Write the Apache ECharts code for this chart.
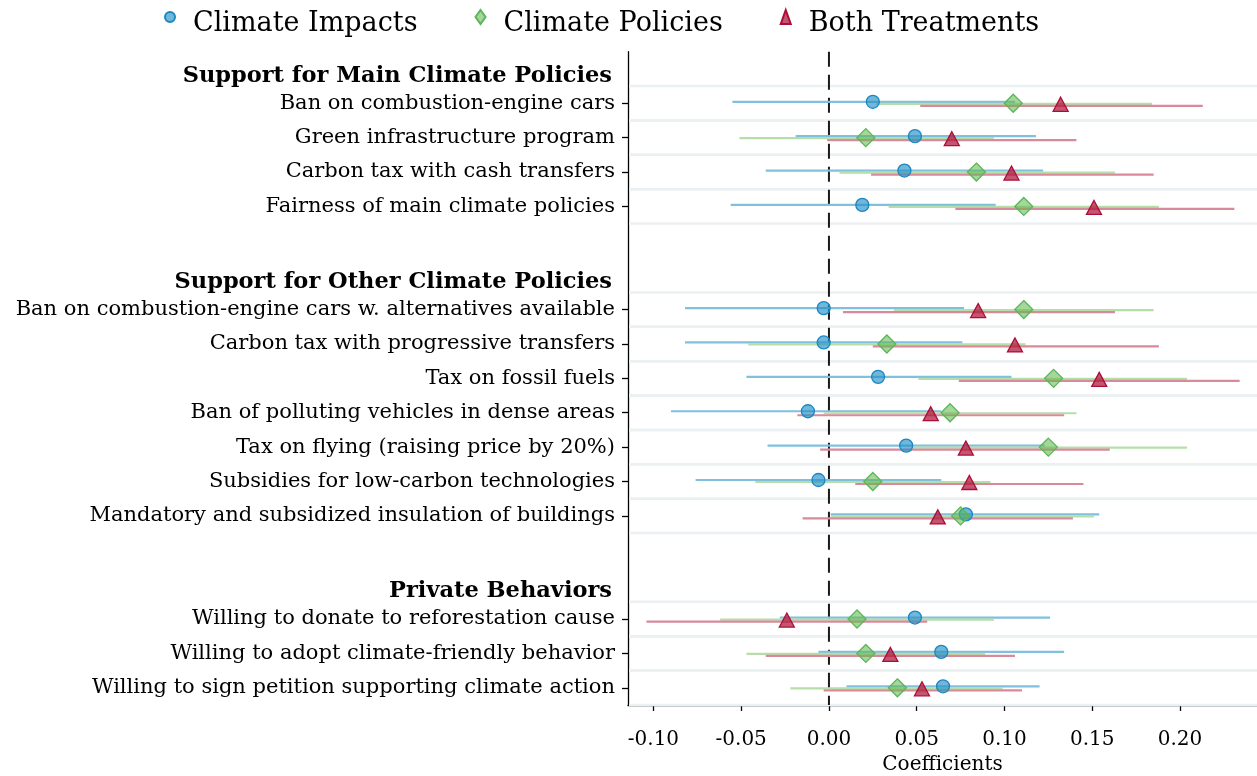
<!DOCTYPE html>
<html>
<head>
<meta charset="utf-8">
<script src="https://cdn.jsdelivr.net/npm/echarts@6/dist/echarts.min.js"></script>
<style>
html,body{margin:0;padding:0;background:#fff;}
#chart{width:1257px;height:776px;}
</style>
</head>
<body>
<div id="chart"></div>
<script>
// ---------- DATA ----------
const headerMain = 'Support for Main Climate Policies';
const headerOther = 'Support for Other Climate Policies';
const headerPrivate = 'Private Behaviors';

const itemsMain = [
  'Ban on combustion-engine cars',
  'Green infrastructure program',
  'Carbon tax with cash transfers',
  'Fairness of main climate policies'
];
const itemsOther = [
  'Ban on combustion-engine cars w. alternatives available',
  'Carbon tax with progressive transfers',
  'Tax on fossil fuels',
  'Ban of polluting vehicles in dense areas',
  'Tax on flying (raising price by 20%)',
  'Subsidies for low-carbon technologies',
  'Mandatory and subsidized insulation of buildings'
];
const itemsPrivate = [
  'Willing to donate to reforestation cause',
  'Willing to adopt climate-friendly behavior',
  'Willing to sign petition supporting climate action'
];

// estimates, lower CI, upper CI (order: main, other, private)
const impactsEst = [0.025, 0.049, 0.043, 0.019, -0.003, -0.003, 0.028, -0.012, 0.044, -0.006, 0.078, 0.049, 0.064, 0.065];
const impactsLo  = [-0.055, -0.019, -0.036, -0.056, -0.082, -0.082, -0.047, -0.090, -0.035, -0.076, 0.001, -0.028, -0.006, 0.010];
const impactsHi  = [0.106, 0.118, 0.122, 0.095, 0.077, 0.076, 0.104, 0.064, 0.123, 0.064, 0.154, 0.126, 0.134, 0.120];

const policiesEst = [0.105, 0.021, 0.084, 0.111, 0.111, 0.033, 0.128, 0.069, 0.125, 0.025, 0.075, 0.016, 0.021, 0.039];
const policiesLo  = [0.027, -0.051, 0.006, 0.034, 0.037, -0.046, 0.051, -0.003, 0.047, -0.042, 0.001, -0.062, -0.047, -0.022];
const policiesHi  = [0.184, 0.094, 0.163, 0.188, 0.185, 0.112, 0.204, 0.141, 0.204, 0.092, 0.151, 0.094, 0.089, 0.099];

const bothEst = [0.132, 0.070, 0.104, 0.151, 0.085, 0.106, 0.154, 0.058, 0.078, 0.080, 0.062, -0.024, 0.035, 0.053];
const bothLo  = [0.052, -0.001, 0.024, 0.072, 0.008, 0.025, 0.074, -0.018, -0.005, 0.015, -0.015, -0.104, -0.036, -0.003];
const bothHi  = [0.213, 0.141, 0.185, 0.231, 0.163, 0.188, 0.234, 0.134, 0.160, 0.145, 0.139, 0.056, 0.106, 0.110];

const tickValues = [-0.10, -0.05, 0.00, 0.05, 0.10, 0.15, 0.20];
const seriesNames = ['Climate Impacts', 'Climate Policies', 'Both Treatments'];

// ---------- BUILD ROWS ----------
const headers = [headerMain, headerOther, headerPrivate];
const rows = [];          // category names
const dataRowIdx = [];    // category indices of data rows
[[headerMain, itemsMain], [headerOther, itemsOther], [headerPrivate, itemsPrivate]].forEach(function (g, gi) {
  if (gi > 0) rows.push(' '.repeat(gi));
  rows.push(g[0]);
  g[1].forEach(function (it) { dataRowIdx.push(rows.length); rows.push(it); });
});
const isData = {}; dataRowIdx.forEach(function (i) { isData[i] = true; });

const FONT = 'DejaVu Serif';
const lineColors = ['#7fc0df', '#b6dea8', '#d88a9b'];
const lineDy = [-1.5, 0.5, 2.5];
const markerDy = [-1.5, 0, 1];
const fills = ['rgba(31,142,199,0.64)', 'rgba(95,183,77,0.56)', 'rgba(174,18,55,0.72)'];
const borders = ['#1a88c0', '#5cb55a', '#ad0d3a'];
const symbols = ['circle', 'diamond', 'triangle'];
const sizes = [13, [18, 18], [15, 14]];
const est = [impactsEst, policiesEst, bothEst];
const lo = [impactsLo, policiesLo, bothLo];
const hi = [impactsHi, policiesHi, bothHi];

const series = [];

// separators around each data row
series.push({
  type: 'custom', name: 'sep', z: 1, silent: true,
  encode: { x: 0, y: 1 },
  data: dataRowIdx.map(function (r) { return [0, r]; }),
  renderItem: function (params, api) {
    const c = api.coord([0, api.value(1)]);
    const h = api.size([0, 1])[1];
    const cs = params.coordSys;
    const st = { stroke: '#ebf0f3', lineWidth: 2.5 };
    return { type: 'group', children: [
      { type: 'line', shape: { x1: cs.x + 1, y1: c[1] - h / 2, x2: cs.x + cs.width, y2: c[1] - h / 2 }, style: st },
      { type: 'line', shape: { x1: cs.x + 1, y1: c[1] + h / 2, x2: cs.x + cs.width, y2: c[1] + h / 2 }, style: st }
    ]};
  }
});

// zero reference line
series.push({
  type: 'custom', name: 'zero', z: 2, silent: true,
  encode: { x: 0, y: 1 },
  data: [[0, 0]],
  renderItem: function (params, api) {
    const x = api.coord([api.value(0), 0])[0];
    const cs = params.coordSys;
    return { type: 'line', shape: { x1: x, y1: cs.y, x2: x, y2: cs.y + cs.height },
      style: { stroke: '#1a1a1a', lineWidth: 2, lineDash: [15, 8] } };
  }
});

// confidence interval lines
for (let s = 0; s < 3; s++) {
  series.push({
    type: 'custom', name: seriesNames[s] + ' CI', z: 3, silent: true,
    encode: { x: [0, 1], y: 2 },
    data: dataRowIdx.map(function (r, k) { return [lo[s][k], hi[s][k], r]; }),
    renderItem: (function (s) {
      return function (params, api) {
        const y = api.value(2);
        const p1 = api.coord([api.value(0), y]);
        const p2 = api.coord([api.value(1), y]);
        return { type: 'line',
          shape: { x1: p1[0], y1: p1[1] + lineDy[s], x2: p2[0], y2: p2[1] + lineDy[s] },
          style: { stroke: lineColors[s], lineWidth: 2.2 } };
      };
    })(s)
  });
}

// point estimates
for (let s = 0; s < 3; s++) {
  series.push({
    type: 'scatter', name: seriesNames[s], z: 4,
    symbol: symbols[s], symbolSize: sizes[s], symbolOffset: [0, markerDy[s]],
    itemStyle: { color: fills[s], borderColor: borders[s], borderWidth: 1.3, opacity: 1 },
    data: dataRowIdx.map(function (r, k) { return [est[s][k], r]; })
  });
}

const chart = echarts.init(document.getElementById('chart'), null, { renderer: 'canvas' });
chart.setOption({
  animation: false,
  backgroundColor: '#fff',
  textStyle: { fontFamily: FONT },
  legend: {
    data: seriesNames.map(function (n, i) { return { name: n, icon: symbols[i] }; }),
    left: 159, top: 4,
    itemWidth: 10, itemHeight: 14, itemGap: 57,
    formatter: function (n) { return '{t|' + n + '}'; },
    textStyle: { fontFamily: FONT, fontSize: 27, color: '#000',
      rich: { t: { fontFamily: FONT, fontSize: 27, color: '#000', padding: [14, 0, 0, 13] } } }
  },
  grid: { left: 628, right: 0, top: 51.7, bottom: 71, containLabel: false, outerBoundsMode: 'none' },
  xAxis: {
    type: 'value', min: -0.1145, max: 0.2439,
    name: 'Coefficients', nameLocation: 'middle', nameGap: 49,
    nameTextStyle: { fontFamily: FONT, fontSize: 20, color: '#000' },
    axisLine: { show: true, onZero: false, lineStyle: { color: '#000', width: 1.3 } },
    axisTick: { show: true, length: 6, customValues: tickValues, lineStyle: { color: '#000', width: 1.3 } },
    axisLabel: { customValues: tickValues, margin: 25, fontFamily: FONT, fontSize: 20, color: '#000',
      formatter: function (v) { return v.toFixed(2); } },
    splitLine: { show: false }
  },
  yAxis: {
    type: 'category', inverse: true, data: rows,
    axisLine: { show: true, onZero: false, lineStyle: { color: '#000', width: 1.3 } },
    axisTick: { show: true, length: 6, alignWithLabel: true,
      interval: function (i) { return !!isData[i]; },
      lineStyle: { color: '#000', width: 1.3 } },
    axisLabel: {
      interval: 0, margin: 13, fontFamily: FONT, fontSize: 21, color: '#000',
      formatter: function (v, i) {
        if (headers.indexOf(v) >= 0) return '{h|' + v + '}';
        if (v.trim() === '') return '';
        return v;
      },
      rich: { h: { fontFamily: FONT, fontSize: 22.5, fontWeight: 'bold', color: '#000', padding: [14, 3, 0, 0] } }
    },
    splitLine: { show: false }
  },
  series: series
});
</script>
</body>
</html>
